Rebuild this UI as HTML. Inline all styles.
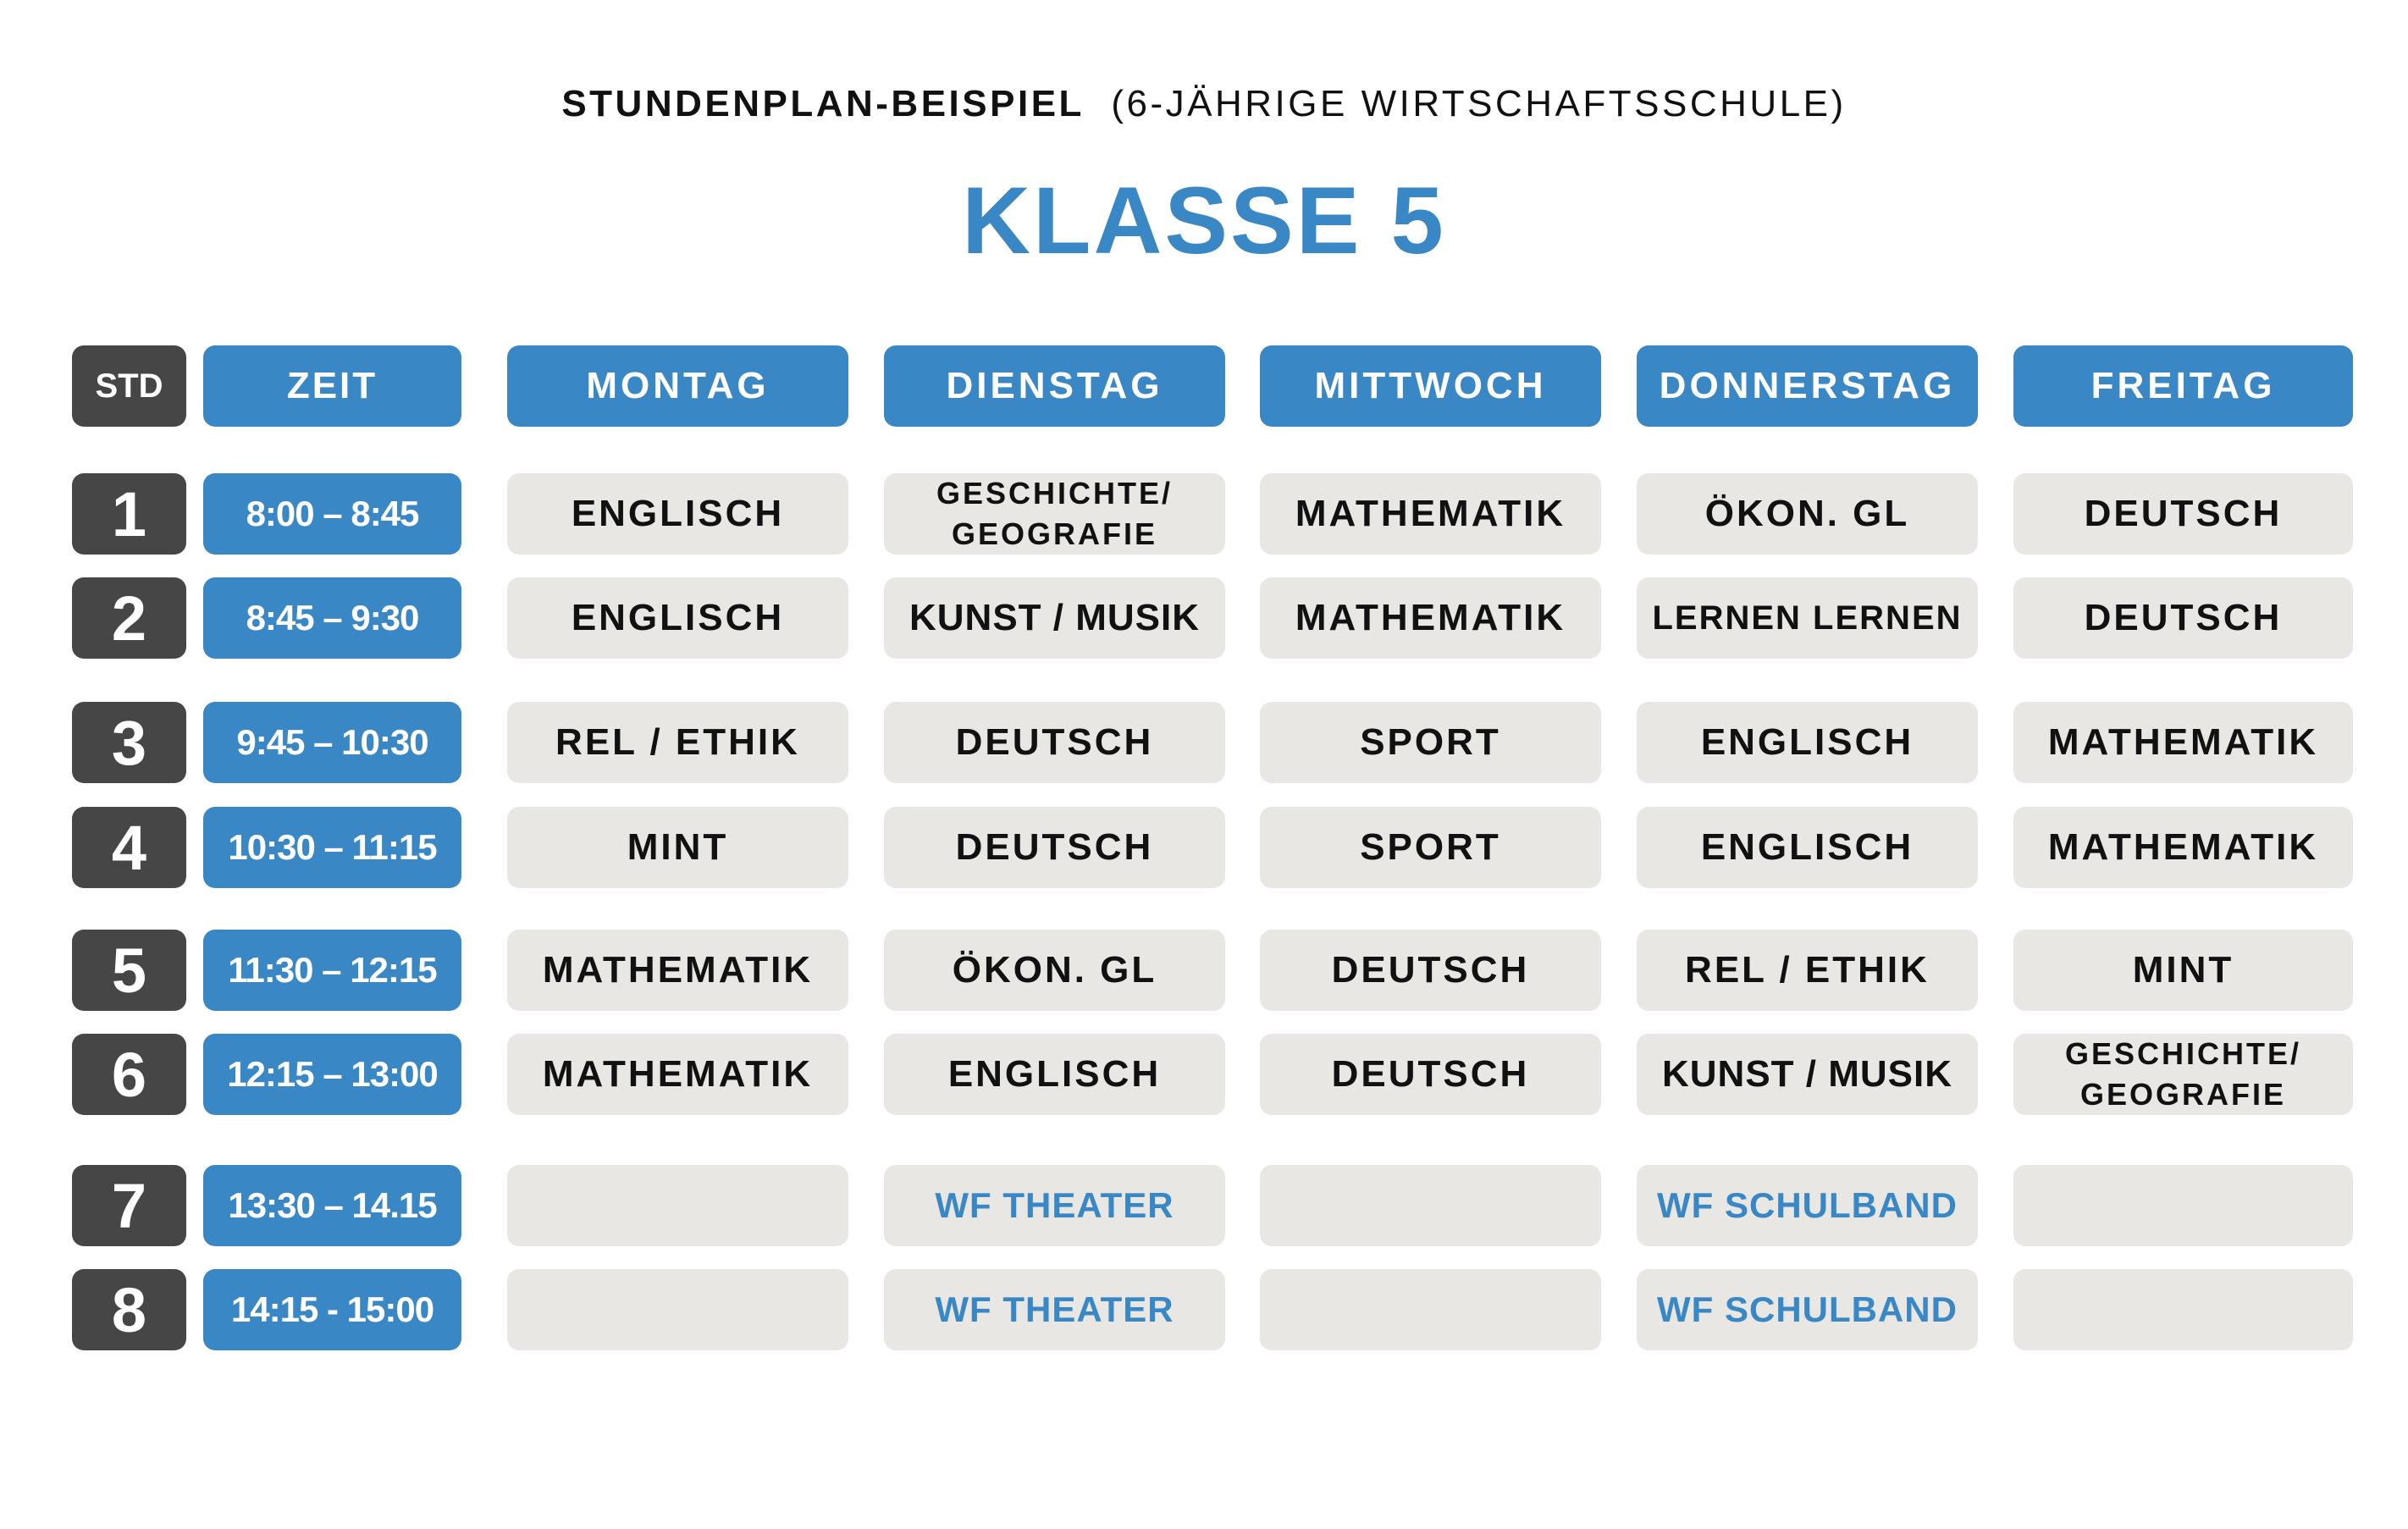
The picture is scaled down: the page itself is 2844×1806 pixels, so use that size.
<!DOCTYPE html>
<html><head><meta charset="utf-8"><style>
html,body{margin:0;padding:0;background:#fff;width:2844px;height:1806px;overflow:hidden;font-family:"Liberation Sans",sans-serif;}
.c{position:absolute;height:96px;border-radius:14px;display:flex;align-items:center;justify-content:center;text-align:center;font-weight:bold;box-sizing:border-box;white-space:nowrap;}
.s{left:85px;width:135px;background:#464646;color:#fff;font-size:74px;}
.z{left:240px;width:305px;background:#3a87c5;color:#fff;font-size:42px;letter-spacing:-1px;}
.h{background:#3a87c5;color:#fff;font-size:44px;letter-spacing:4px;}
.g{background:#e8e7e4;color:#111;font-size:44px;letter-spacing:3px;}
.d1{left:599px;width:403px}.d2{left:1044px;width:403px}.d3{left:1488px;width:403px}.d4{left:1933px;width:403px}.d5{left:2378px;width:401px}
.t{font-size:36px;line-height:48px;letter-spacing:3px}
.sm{font-size:40px;letter-spacing:2px}
.b{color:#3a87c5;font-size:42px;letter-spacing:1px}
.r0{top:408px}.r1{top:559px}.r2{top:682px}.r3{top:829px}.r4{top:953px}.r5{top:1098px}.r6{top:1221px}.r7{top:1376px}.r8{top:1499px}
</style></head><body>
<div style="position:absolute;left:0;width:2844px;top:98px;text-align:center;font-size:44px;letter-spacing:3.5px;color:#111;"><b>STUNDENPLAN-BEISPIEL</b>&nbsp; (6-JÄHRIGE WIRTSCHAFTSSCHULE)</div>
<div style="position:absolute;left:0;width:2844px;top:196px;text-align:center;font-size:112px;font-weight:bold;letter-spacing:3px;color:#3a87c5;">KLASSE 5</div>

<div class="c s r0" style="font-size:40px;letter-spacing:0">STD</div>
<div class="c z r0" style="font-size:44px;letter-spacing:3px">ZEIT</div>
<div class="c h d1 r0">MONTAG</div><div class="c h d2 r0">DIENSTAG</div><div class="c h d3 r0">MITTWOCH</div><div class="c h d4 r0">DONNERSTAG</div><div class="c h d5 r0">FREITAG</div>

<div class="c s r1">1</div><div class="c z r1">8:00 – 8:45</div>
<div class="c g d1 r1">ENGLISCH</div><div class="c g d2 r1 t">GESCHICHTE/<br>GEOGRAFIE</div><div class="c g d3 r1">MATHEMATIK</div><div class="c g d4 r1">ÖKON. GL</div><div class="c g d5 r1">DEUTSCH</div>

<div class="c s r2">2</div><div class="c z r2">8:45 – 9:30</div>
<div class="c g d1 r2">ENGLISCH</div><div class="c g d2 r2" style="letter-spacing:1px">KUNST / MUSIK</div><div class="c g d3 r2">MATHEMATIK</div><div class="c g d4 r2 sm">LERNEN LERNEN</div><div class="c g d5 r2">DEUTSCH</div>

<div class="c s r3">3</div><div class="c z r3">9:45 – 10:30</div>
<div class="c g d1 r3">REL / ETHIK</div><div class="c g d2 r3">DEUTSCH</div><div class="c g d3 r3">SPORT</div><div class="c g d4 r3">ENGLISCH</div><div class="c g d5 r3">MATHEMATIK</div>

<div class="c s r4">4</div><div class="c z r4">10:30 – 11:15</div>
<div class="c g d1 r4">MINT</div><div class="c g d2 r4">DEUTSCH</div><div class="c g d3 r4">SPORT</div><div class="c g d4 r4">ENGLISCH</div><div class="c g d5 r4">MATHEMATIK</div>

<div class="c s r5">5</div><div class="c z r5">11:30 – 12:15</div>
<div class="c g d1 r5">MATHEMATIK</div><div class="c g d2 r5">ÖKON. GL</div><div class="c g d3 r5">DEUTSCH</div><div class="c g d4 r5">REL / ETHIK</div><div class="c g d5 r5">MINT</div>

<div class="c s r6">6</div><div class="c z r6">12:15 – 13:00</div>
<div class="c g d1 r6">MATHEMATIK</div><div class="c g d2 r6">ENGLISCH</div><div class="c g d3 r6">DEUTSCH</div><div class="c g d4 r6" style="letter-spacing:1px">KUNST / MUSIK</div><div class="c g d5 r6 t">GESCHICHTE/<br>GEOGRAFIE</div>

<div class="c s r7">7</div><div class="c z r7">13:30 – 14.15</div>
<div class="c g d1 r7"></div><div class="c g d2 r7 b">WF THEATER</div><div class="c g d3 r7"></div><div class="c g d4 r7 b">WF SCHULBAND</div><div class="c g d5 r7"></div>

<div class="c s r8">8</div><div class="c z r8">14:15 - 15:00</div>
<div class="c g d1 r8"></div><div class="c g d2 r8 b">WF THEATER</div><div class="c g d3 r8"></div><div class="c g d4 r8 b">WF SCHULBAND</div><div class="c g d5 r8"></div>
</body></html>
